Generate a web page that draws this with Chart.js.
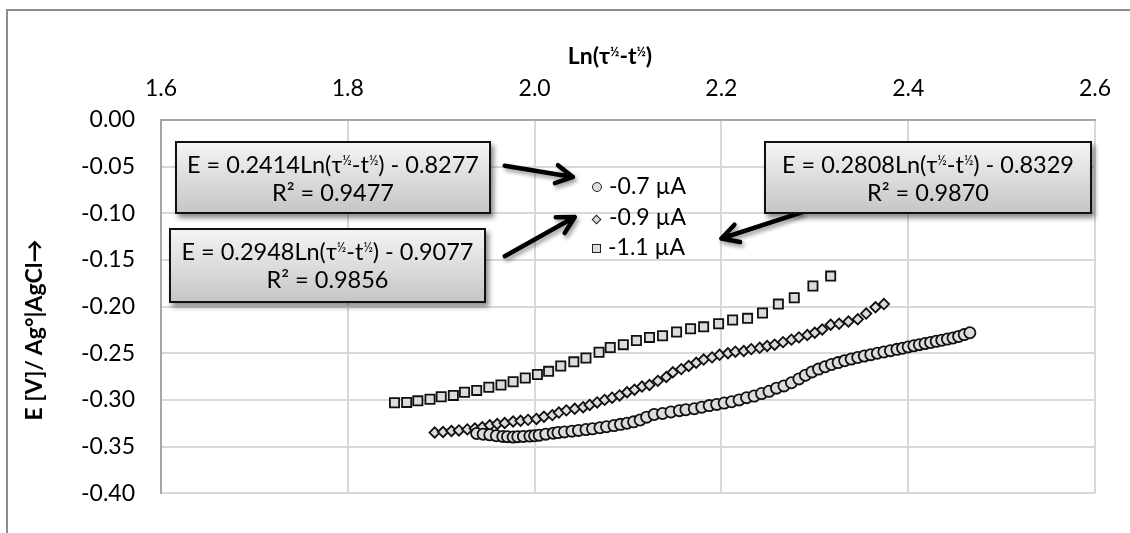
<!DOCTYPE html>
<html>
<head>
<meta charset="utf-8">
<script src="https://cdn.jsdelivr.net/npm/chart.js@4.4.1/dist/chart.umd.min.js"></script>
<style>
  html, body { margin: 0; padding: 0; background: #fff; overflow: hidden; }
  body { width: 1130px; height: 533px; position: relative; font-family: Lato, "Noto Sans", sans-serif; color: #000; }
  #frame { position: absolute; left: 6px; top: 9px; width: 1300px; height: 700px; border: 2px solid #8c8c8c; pointer-events: none; }
  canvas { position: absolute; left: 0; top: 0; }
  sup { font-size: 0.55em; vertical-align: 0.65em; line-height: 0; }
  .xtitle { position: absolute; left: 610px; top: 55px; transform: translate(-50%, -50%); font-weight: bold; font-size: 23px; white-space: nowrap; }
  .ytitle { position: absolute; left: 33px; top: 330px; transform: translate(-50%, -50%) rotate(-90deg); font-weight: bold; font-size: 23px; white-space: nowrap; }
  .eq { position: absolute; box-sizing: border-box; border: 2px solid #111; background: linear-gradient(#f4f4f4, #c6c6c6);
        box-shadow: 3px 4px 5px rgba(0,0,0,.45); text-align: center; font-size: 23.5px; line-height: 28px; padding-top: 7px; white-space: nowrap; }
  .legend { position: absolute; left: 592px; top: 170px; font-size: 23px; line-height: 30.5px; }
  .legend div { white-space: nowrap; }
  .mk { display: inline-block; box-sizing: border-box; border: 1.6px solid #222; background: #ddd; margin-right: 7px; vertical-align: 2px; }
  .mk.circle { width: 10px; height: 10px; border-radius: 50%; }
  .mk.diamond { width: 7px; height: 7px; transform: rotate(45deg); margin-left: 1px; margin-right: 9px; }
  .mk.square { width: 9px; height: 9px; }
</style>
</head>
<body>
<canvas id="chart" width="1130" height="533"></canvas>
<div id="frame"></div>
<div class="xtitle">Ln(τ<sup>½</sup>-t<sup>½</sup>)</div>
<div class="ytitle">E [V]/ Ag°|AgCl→</div>
<div class="eq" style="left:175px;top:141px;width:316px;height:73px">E = 0.2414Ln(τ<sup>½</sup>-t<sup>½</sup>) - 0.8277<br>R² = 0.9477</div>
<div class="eq" style="left:169px;top:228px;width:317px;height:75px">E = 0.2948Ln(τ<sup>½</sup>-t<sup>½</sup>) - 0.9077<br>R² = 0.9856</div>
<div class="eq" style="left:764px;top:141px;width:328px;height:73px">E = 0.2808Ln(τ<sup>½</sup>-t<sup>½</sup>) - 0.8329<br>R² = 0.9870</div>
<div class="legend" id="legend"></div>
<script>
// -0.7 uA (circles)
const x07 = [1.938, 1.945, 1.952, 1.959, 1.966, 1.971, 1.977, 1.982, 1.988, 1.995, 2.000, 2.005, 2.012, 2.020, 2.025,
  2.032, 2.040, 2.047, 2.055, 2.062, 2.070, 2.077, 2.085, 2.092, 2.099, 2.106, 2.113, 2.120,
  2.128, 2.137, 2.146, 2.155, 2.162, 2.171, 2.179, 2.187, 2.195, 2.203, 2.211, 2.219, 2.227, 2.235, 2.243, 2.251, 2.259, 2.267, 2.275, 2.283,
  2.290, 2.297, 2.304, 2.311, 2.318, 2.325, 2.332, 2.339, 2.346, 2.353, 2.360, 2.367, 2.374, 2.381, 2.388,
  2.394, 2.400, 2.406, 2.412, 2.418, 2.424, 2.430, 2.436, 2.442, 2.448, 2.454, 2.460, 2.466];
const y07 = [-0.336, -0.3367, -0.3374, -0.3384, -0.3391, -0.3394, -0.3398, -0.3394, -0.3391, -0.3388, -0.3384, -0.3378, -0.3367, -0.3357, -0.335,
  -0.3343, -0.3335, -0.3327, -0.3318, -0.331, -0.3298, -0.3288, -0.3275, -0.3262, -0.325, -0.3235, -0.3215, -0.3185,
  -0.3156, -0.3146, -0.3129, -0.3115, -0.3105, -0.3095, -0.3078, -0.3061, -0.3048, -0.3034, -0.302, -0.300, -0.2976, -0.2959, -0.2932, -0.2908, -0.2874, -0.285, -0.2816, -0.2775,
  -0.2735, -0.2700, -0.2670, -0.2645, -0.2620, -0.2600, -0.2580, -0.2562, -0.2545, -0.2530, -0.2515, -0.2500, -0.2486, -0.2472, -0.2458,
  -0.2446, -0.2432, -0.2420, -0.2408, -0.2396, -0.2384, -0.2372, -0.2360, -0.2348, -0.2336, -0.2320, -0.2300, -0.2280];

// -0.9 uA (diamonds)
const x09 = [1.893, 1.902, 1.911, 1.919, 1.928, 1.936, 1.944, 1.952, 1.960, 1.968, 1.977, 1.985, 1.993, 2.002, 2.010, 2.019, 2.026,
  2.034, 2.043, 2.052, 2.059, 2.067, 2.075, 2.083, 2.091, 2.099, 2.107, 2.115, 2.123, 2.132, 2.141, 2.148, 2.157, 2.165, 2.173,
  2.181, 2.190, 2.198, 2.207, 2.215, 2.224, 2.232, 2.241, 2.249, 2.257, 2.266, 2.275, 2.283, 2.292, 2.300, 2.308,
  2.317, 2.326, 2.336, 2.346, 2.355, 2.365, 2.374];
const y09 = [-0.335, -0.3344, -0.3333, -0.3327, -0.3316, -0.3306, -0.3293, -0.3272, -0.3258, -0.3248, -0.3231, -0.3224, -0.3214, -0.3204, -0.318, -0.3163, -0.3136,
  -0.3112, -0.3095, -0.3078, -0.3054, -0.3027, -0.300, -0.2976, -0.2952, -0.2918, -0.2891, -0.2857, -0.284, -0.2796, -0.2755, -0.2704, -0.267, -0.2636, -0.2602,
  -0.2568, -0.2544, -0.2517, -0.250, -0.2483, -0.2476, -0.2456, -0.2442, -0.2422, -0.2408, -0.2381, -0.2354, -0.233, -0.2305, -0.2280, -0.2245,
  -0.2194, -0.2184, -0.216, -0.2136, -0.2075, -0.2007, -0.1973];

// -1.1 uA (squares)
const x11 = [1.850, 1.863, 1.875, 1.888, 1.900, 1.913, 1.925, 1.938, 1.951, 1.964, 1.977, 1.990, 2.003, 2.015, 2.028,
  2.042, 2.055, 2.069, 2.081, 2.095, 2.109, 2.123, 2.137, 2.152, 2.167, 2.181, 2.197, 2.212, 2.228, 2.244, 2.261, 2.278, 2.298, 2.317];
const y11 = [-0.303, -0.3027, -0.301, -0.2993, -0.2966, -0.2952, -0.2918, -0.2898, -0.2864, -0.284, -0.2806, -0.2765, -0.2728, -0.2694, -0.2636,
  -0.2592, -0.2551, -0.249, -0.2439, -0.2408, -0.2364, -0.233, -0.2313, -0.2272, -0.2238, -0.2217, -0.2184, -0.2143, -0.2126, -0.2068, -0.1973, -0.1905, -0.1779, -0.1673];

const seriesNames = ["-0.7 µA", "-0.9 µA", "-1.1 µA"];
const seriesStyles = ["circle", "rectRot", "rect"];
const legendShapes = ["circle", "diamond", "square"];

const xTicks = [1.6, 1.8, 2.0, 2.2, 2.4, 2.6];
const yTicks = [0, -0.05, -0.1, -0.15, -0.2, -0.25, -0.3, -0.35, -0.4];

// arrows from the fit boxes, in data units [x1, y1, x2, y2]
const arrows = [
  [1.968, -0.049, 2.041, -0.061],
  [1.968, -0.146, 2.043, -0.104],
  [2.286, -0.099, 2.200, -0.127]
];

const pts = (xs, ys) => xs.map((x, i) => ({ x, y: ys[i] }));
const radii = [5.6, 5.2, 6.5];

const datasets = [pts(x07, y07), pts(x09, y09), pts(x11, y11)].map((data, i) => ({
  label: seriesNames[i],
  data,
  pointStyle: seriesStyles[i],
  pointRadius: radii[i],
  pointBorderWidth: 1.8,
  pointBorderColor: "#111",
  pointBackgroundColor: "#dcdcdc",
  showLine: false
}));

const arrowPlugin = {
  id: "arrows",
  afterDraw(chart) {
    const { ctx, scales: { x, y } } = chart;
    ctx.save();
    ctx.strokeStyle = "#000";
    ctx.lineWidth = 4.5;
    ctx.lineCap = "round";
    ctx.lineJoin = "round";
    ctx.shadowColor = "rgba(0,0,0,0.4)";
    ctx.shadowOffsetX = 2;
    ctx.shadowOffsetY = 3;
    ctx.shadowBlur = 4;
    arrows.forEach(([x1, y1, x2, y2]) => {
      const ax = x.getPixelForValue(x1), ay = y.getPixelForValue(y1);
      const bx = x.getPixelForValue(x2), by = y.getPixelForValue(y2);
      const ang = Math.atan2(by - ay, bx - ax);
      const head = 19, spread = 0.5;
      ctx.beginPath();
      ctx.moveTo(ax, ay);
      ctx.lineTo(bx, by);
      ctx.moveTo(bx - head * Math.cos(ang - spread), by - head * Math.sin(ang - spread));
      ctx.lineTo(bx, by);
      ctx.lineTo(bx - head * Math.cos(ang + spread), by - head * Math.sin(ang + spread));
      ctx.stroke();
    });
    ctx.restore();
  }
};

const tickFont = { family: "Lato, 'Noto Sans', sans-serif", size: 23 };

new Chart(document.getElementById("chart"), {
  type: "scatter",
  data: { datasets },
  options: {
    responsive: false,
    animation: false,
    layout: { padding: { left: 0, right: 35, top: 0, bottom: 21 } },
    plugins: { legend: { display: false }, tooltip: { enabled: false } },
    scales: {
      x: {
        type: "linear",
        position: "top",
        min: 1.6,
        max: 2.6,
        afterBuildTicks: s => { s.ticks = xTicks.map(value => ({ value })); },
        afterFit: s => { s.height = 120; },
        ticks: { font: tickFont, color: "#000", padding: 18, callback: v => v.toFixed(1) },
        grid: { color: "#d9d9d9", lineWidth: 2, drawTicks: false },
        border: { color: "#a6a6a6", width: 2 }
      },
      y: {
        type: "linear",
        min: -0.4,
        max: 0,
        afterBuildTicks: s => { s.ticks = yTicks.map(value => ({ value })); },
        afterFit: s => { s.width = 161; },
        ticks: { font: tickFont, color: "#000", padding: 26, callback: v => v.toFixed(2) },
        grid: { color: "#d9d9d9", lineWidth: 2, drawTicks: false },
        border: { color: "#a6a6a6", width: 2 }
      }
    }
  },
  plugins: [arrowPlugin]
});

document.getElementById("legend").innerHTML = seriesNames
  .map((name, i) => `<div><span class="mk ${legendShapes[i]}"></span>${name}</div>`)
  .join("");
</script>
</body>
</html>
